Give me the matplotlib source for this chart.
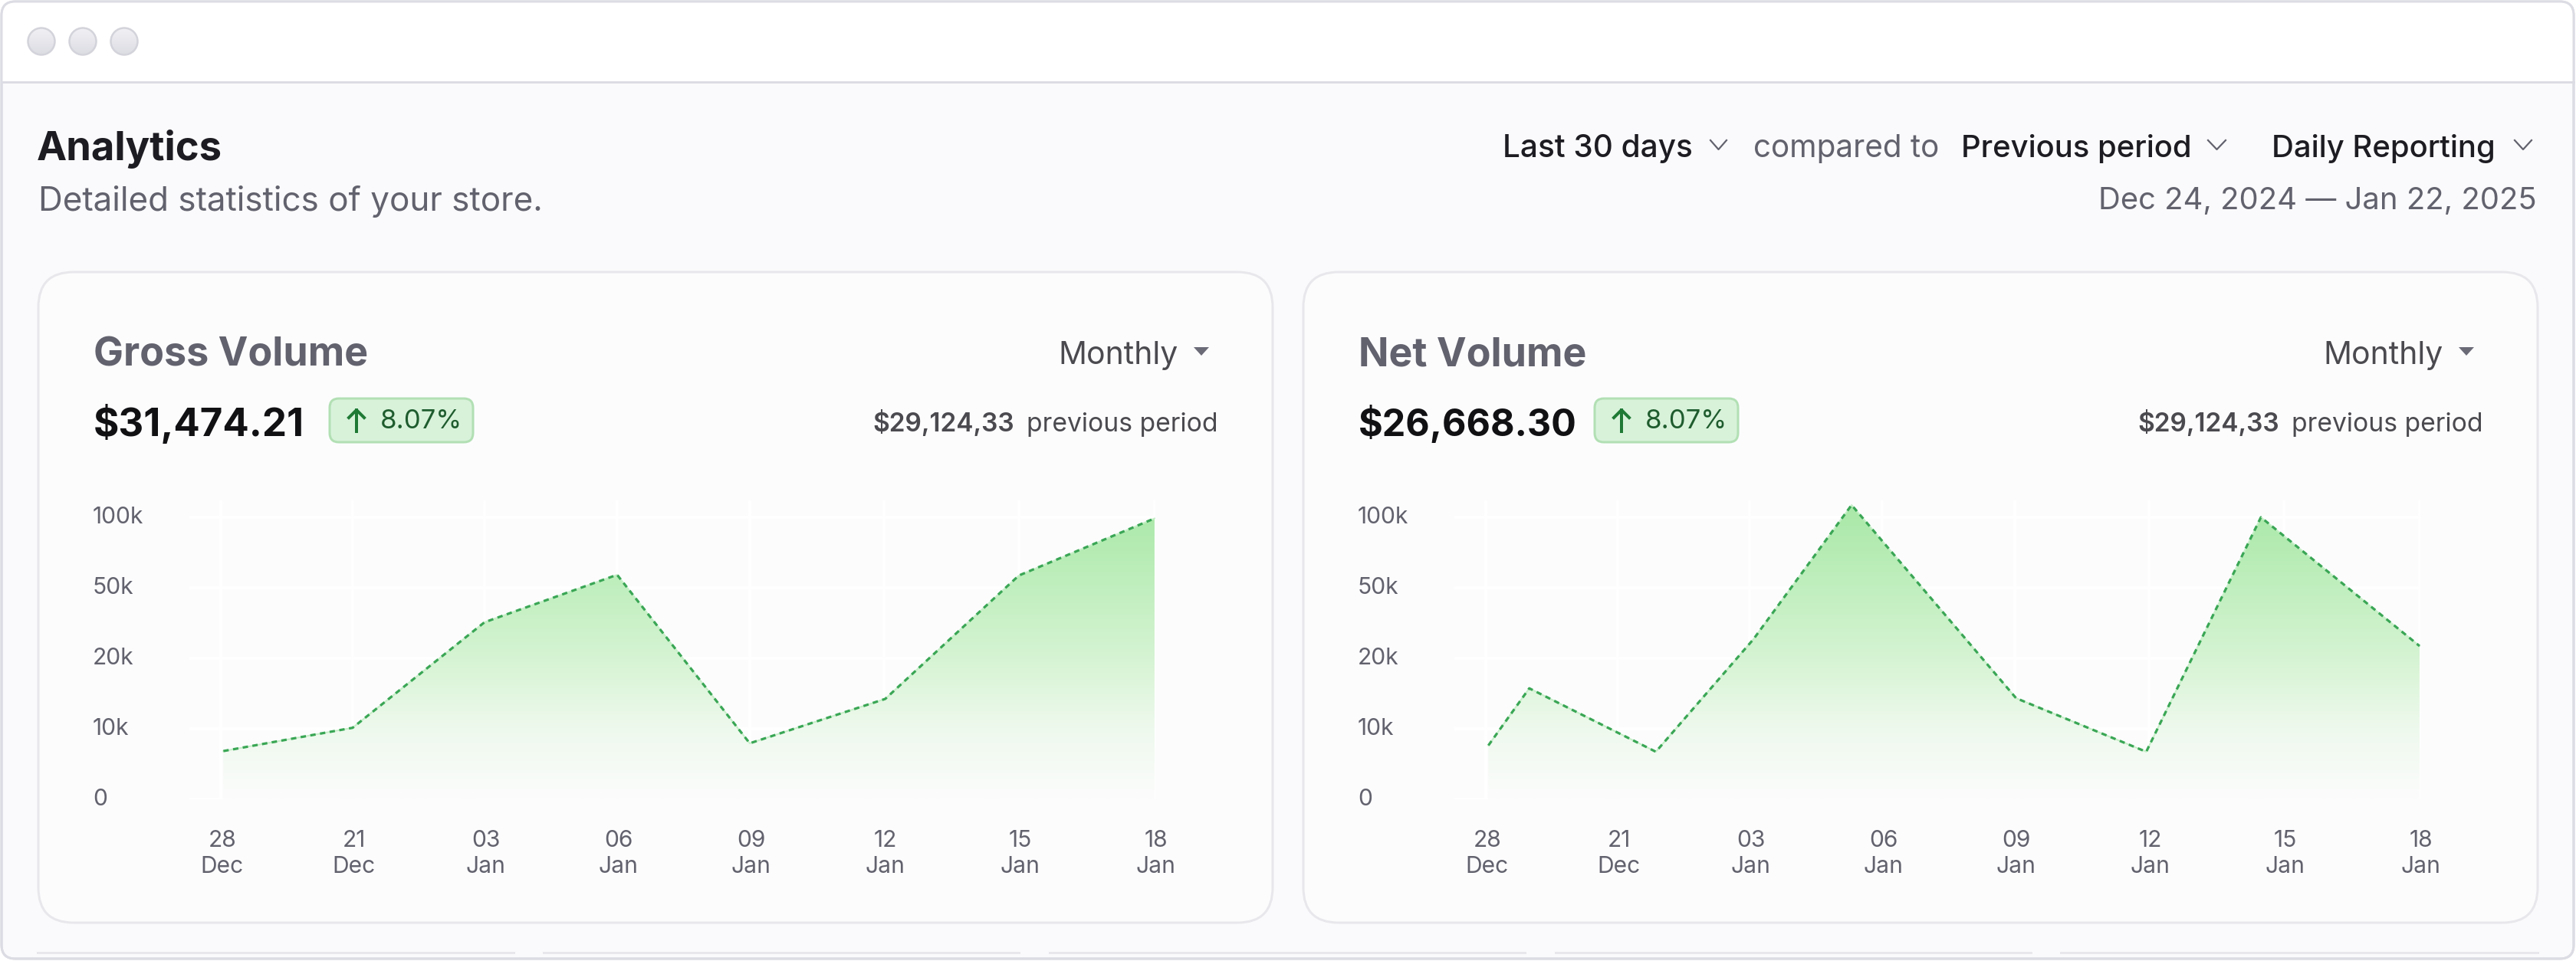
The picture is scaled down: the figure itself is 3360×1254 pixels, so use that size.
import numpy as np
import matplotlib
matplotlib.use("Agg")
import matplotlib.pyplot as plt
from matplotlib.colors import LinearSegmentedColormap
from matplotlib.patches import FancyBboxPatch, Rectangle, Polygon
from matplotlib.transforms import ScaledTranslation

plt.rcParams['font.family'] = ['Inter', 'DejaVu Sans']

# values
x_labels = ['28\nDec', '21\nDec', '03\nJan', '06\nJan', '09\nJan', '12\nJan', '15\nJan', '18\nJan']
y_ticks = [0, 10, 20, 50, 100]
y_labels = ['0', '10k', '20k', '50k', '100k']

# x is a position on the tick row (0 = first label), y is in thousands
gross_x = [0.02, 1.0, 2.0, 3.0, 4.0, 5.01, 6.0, 7.0]
gross_y = [6.8, 10.1, 35.2, 59.0, 7.9, 14.2, 58.5, 99.0]
net_x = [0.02, 0.33, 1.29, 2.03, 2.77, 4.01, 4.98, 5.83, 7.0]
net_y = [7.6, 15.7, 6.7, 28.0, 108.5, 14.3, 6.7, 99.8, 25.1]

cards = [
    dict(title='Gross Volume', total='$31,474.21', change='8.07%', previous='$29,124,33',
         x=gross_x, y=gross_y, offset=0),
    dict(title='Net Volume', total='$26,668.30', change='8.07%', previous='$29,124,33',
         x=net_x, y=net_y, offset=1650),
]

# colours
INK = '#1c1c22'
MUTED = '#62626e'
BODY = '#4a4a4f'
EDGE = '#dcdce4'
CARD_EDGE = '#e8e8ec'
PAGE = '#fafafc'
CARD = '#fcfcfd'
W, H = 3360, 1254


def px(n):
    return n * 0.72


# the value axis has even steps for uneven values, the date row is slightly uneven too
y_knots = [0, 10, 20, 50, 100, 150]
x_knots_px = [-172, 0, 172, 344, 517, 690, 865, 1041, 1218, 1395]
x_knots = list(range(-1, 9))


def y_fwd(v):
    return np.interp(v, y_knots, range(len(y_knots)))


def y_inv(v):
    return np.interp(v, range(len(y_knots)), y_knots)


def x_fwd(v):
    return np.interp(v, x_knots, x_knots_px)


def x_inv(v):
    return np.interp(v, x_knots_px, x_knots)


fig = plt.figure(figsize=(W / 100, H / 100), dpi=100, facecolor='white')
bg = fig.add_axes([0, 0, 1, 1], zorder=0)
bg.set_xlim(0, W)
bg.set_ylim(H, 0)
bg.axis('off')


def label(x, y, s, size, color=MUTED, weight='normal', ha='left'):
    bg.text(x, y, s, fontsize=px(size), color=color, fontweight=weight, ha=ha, va='baseline')


def rounded(x0, y0, x1, y1, r, face, edge, lw, z=1):
    p = FancyBboxPatch((x0, y0), x1 - x0, y1 - y0, boxstyle=f'round,pad=0,rounding_size={r}',
                       facecolor=face, edgecolor=edge, linewidth=px(lw), zorder=z)
    bg.add_patch(p)
    return p


def chevron(x0, x1, y0, y1):
    bg.plot([x0, (x0 + x1) / 2, x1], [y0, y1, y0], color=MUTED, lw=px(2.2), zorder=3)


# window
window = rounded(2, 2, 3357, 1251, 18, PAGE, EDGE, 3)
bar = Rectangle((0, 0), W, 107, facecolor='white', edgecolor='none', zorder=1.1)
bg.add_patch(bar)
bar.set_clip_path(window)
bg.plot([2, 3357], [107, 107], color=EDGE, lw=px(3), zorder=1.2)
rounded(2, 2, 3357, 1251, 18, 'none', EDGE, 3, z=1.3)

dot_cmap = LinearSegmentedColormap.from_list('dot', ['#f1f1f5', '#dcdce3'])
for cx in [54, 108, 162]:
    im = bg.imshow(np.linspace(0, 1, 40).reshape(-1, 1), cmap=dot_cmap, aspect='auto',
                   extent=(cx - 18, cx + 18, 72, 36), zorder=2)
    ring = plt.Circle((cx, 54), 17.5, facecolor='none', edgecolor='#d3d3db', linewidth=px(2.5), zorder=2.1)
    bg.add_patch(ring)
    im.set_clip_path(ring)
bg.set_xlim(0, W)
bg.set_ylim(H, 0)

# strip of the next row, cut off at the bottom
for x0, x1 in [(48, 672), (708, 1331), (1368, 1991), (2028, 2651), (2687, 3312)]:
    bg.add_patch(Rectangle((x0, 1242), x1 - x0, 3, facecolor=CARD_EDGE, edgecolor='none', zorder=2))

# header
label(48, 209, 'Analytics', 52.5, INK, 'bold')
label(50, 275, 'Detailed statistics of your store.', 44)
label(1960, 205, 'Last 30 days', 40.5, INK, 'medium')
chevron(2231, 2252, 183, 195)
label(2287, 205, 'compared to', 40.5)
label(2558, 205, 'Previous period', 40, INK, 'medium')
chevron(2880, 2903, 183, 195)
label(2963, 205, 'Daily Reporting', 40, INK, 'medium')
chevron(3280, 3302, 183, 195)
label(3309, 273, 'Dec 24, 2024 \u2014 Jan 22, 2025', 40, ha='right')

# colour by height in the chart, 0 = baseline, 1 = top of the axes
gradient = LinearSegmentedColormap.from_list(
    'area', [(0, '#fcfcfc'), (0.237, '#eef9ed'), (0.468, '#d6f4d3'), (0.75, '#bdeebb'),
             (0.94, '#ade9ab'), (1, '#a8e8a8')])

for card in cards:
    dx = card['offset']
    rounded(50 + dx, 355, 1660 + dx, 1204, 46, CARD, CARD_EDGE, 3)
    label(122 + dx, 478, card['title'], 52, MUTED, 'bold')
    # the reference digits run narrower on the second card
    label(122 + dx, 569, card['total'], 51 if dx == 0 else 48.5, '#111114', 'bold')
    rounded(430 + dx, 520, 617 + dx, 577, 12, '#d8f2da', '#b2e0b4', 3, z=2)
    bg.plot([465 + dx, 465 + dx], [535, 563], color='#1f7a35', lw=px(4), zorder=3)
    bg.plot([455 + dx, 465 + dx, 475 + dx], [545, 535, 545], color='#1f7a35', lw=px(4), zorder=3)
    label(496 + dx, 559, card['change'], 34.7, '#1f5c2e')
    label(1380 + dx, 475, 'Monthly', 41, BODY)
    bg.add_patch(Polygon([(1557 + dx, 453), (1577 + dx, 453), (1567 + dx, 464)], facecolor='#6b6b78',
                         edgecolor='none', zorder=3))
    label(1138 + dx, 563, card['previous'], 33.5, BODY, 'semibold')
    label(1339 + dx, 563, 'previous period', 33.7, BODY)

    # chart
    left, right, top, bottom = 247 + dx, 1507 + dx, 653, 1042.6
    ax = fig.add_axes([left / W, 1 - bottom / H, (right - left) / W, (bottom - top) / H], zorder=1)
    ax.patch.set_visible(False)
    ax.set_xscale('function', functions=(x_fwd, x_inv))
    ax.set_yscale('function', functions=(y_fwd, y_inv))

    area = ax.fill_between(card['x'], card['y'], 0, facecolor='none', edgecolor='none')
    img = ax.imshow(np.linspace(1, 0, 256).reshape(-1, 1), cmap=gradient, aspect='auto',
                    extent=(0, 1, 0, 1), transform=ax.transAxes, zorder=2, interpolation='bilinear')
    img.set_clip_path(area.get_paths()[0], ax.transData)

    ax.plot(card['x'], card['y'], color='#c6efc8', lw=px(2), zorder=3)
    ax.plot(card['x'], card['y'], color='#3aa655', lw=px(3.2), linestyle=(0, (2.2, 1.8)), zorder=4)

    ax.set_xlim(-0.238, 7.006)
    ax.set_ylim(0, 111.75)
    ax.set_xticks(range(len(x_labels)))
    ax.set_xticklabels(x_labels, fontsize=px(30), color=MUTED, linespacing=1.28)
    ax.set_yticks(y_ticks)
    ax.set_yticklabels(y_labels, fontsize=px(30), color=MUTED, ha='left')
    ax.tick_params(axis='x', length=0, pad=px(40))
    ax.tick_params(axis='y', length=0, pad=px(126))
    ax.grid(True, color='white', lw=px(3.5), zorder=1)
    ax.set_axisbelow(True)
    for s in ax.spines.values():
        s.set_visible(False)
    for t in ax.get_xticklabels():
        t.set_transform(t.get_transform() + ScaledTranslation(2 / 100, 0, fig.dpi_scale_trans))
    for t in ax.get_yticklabels():
        t.set_transform(t.get_transform() + ScaledTranslation(0, 3 / 100, fig.dpi_scale_trans))

fig.savefig('out.png', dpi=100)
